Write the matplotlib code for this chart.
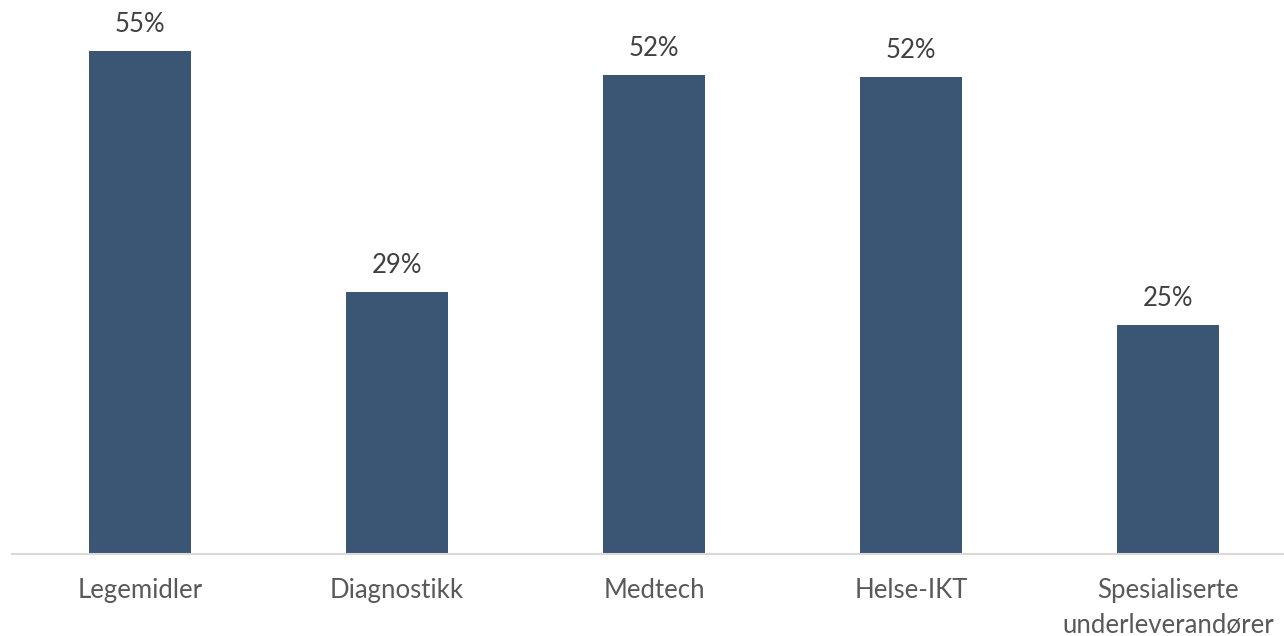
import matplotlib.pyplot as plt
import numpy as np

CATEGORIES = ["Legemidler", "Diagnostikk", "Medtech", "Helse-IKT",
              "Spesialiserte\nunderleverandører"]
VALUES = [55.0, 28.6, 52.4, 52.1, 25.0]

BAR_COLOR = "#3A5674"
VALUE_COLOR = "#404040"
TICK_COLOR = "#595959"

plt.rcParams['font.family'] = ['Lato', 'DejaVu Sans']

fig = plt.figure(figsize=(12.84, 6.36), dpi=100)
# axes slightly wider than the figure so the last category is cut like the original
ax = fig.add_axes([11.5 / 1284, 82 / 636, 1285 / 1284, 549 / 636])

x = np.arange(len(CATEGORIES))
bars = ax.bar(x, VALUES, width=0.4, color=BAR_COLOR, zorder=2)

for b, v in zip(bars, VALUES):
    ax.annotate("%.0f%%" % v, (b.get_x() + b.get_width() / 2, v),
                xytext=(0, 10), textcoords="offset points", ha="center", va="bottom",
                fontsize=18.5, color=VALUE_COLOR)

ax.set_xlim(-0.5, len(CATEGORIES) - 0.5)
ax.set_ylim(0, 60)
ax.set_xticks(x)
ax.set_xticklabels(CATEGORIES, fontsize=18.5, color=TICK_COLOR, linespacing=1.5)
ax.tick_params(axis="x", length=0, pad=17)
ax.set_yticks([])
for s in ["top", "right", "left"]:
    ax.spines[s].set_visible(False)
ax.spines["bottom"].set_color("#D9D9D9")
ax.spines["bottom"].set_linewidth(1.5)

plt.savefig("out.png", dpi=100)
